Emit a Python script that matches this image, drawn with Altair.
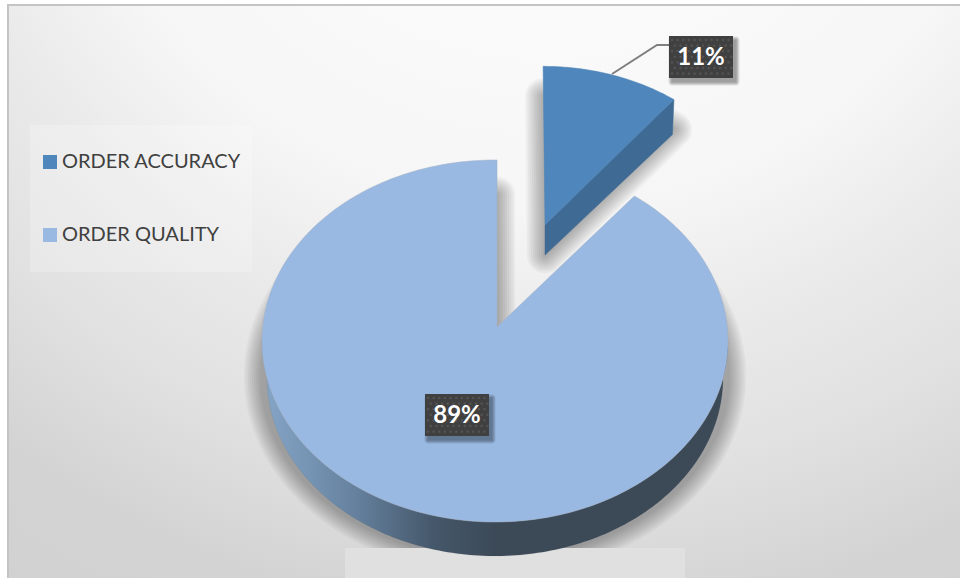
import altair as alt
import numpy as np
import pandas as pd

# Shares of the two order measures, in per cent
names = ["ORDER ACCURACY", "ORDER QUALITY"]
shares = [11, 89]
share_labels = ["11%", "89%"]
face_colors = ["#4f87bd", "#9ab9e2"]

W, H = 960, 578
# The unit circle of the pie sits at this pixel centre with these radii
CX, CY, RX, RY = 495.0, 341.0, 233.0, 181.0
x_scale = alt.Scale(domain=[(0 - CX) / RX, (W - CX) / RX], range=[0, W], nice=False, zero=False)
y_scale = alt.Scale(domain=[(CY - H) / RY, CY / RY], range=[H, 0], nice=False, zero=False)


def ux(px):
    return (px - CX) / RX


def uy(py):
    return (CY - py) / RY


def rim(t0, t1, n=160):
    t = np.radians(np.linspace(t0, t1, n))
    return np.sin(t), np.cos(t)


# Tilted view shortens the small slice's sweep slightly on the far rim
cut = shares[0] * 3.6 * 0.915
TWIST = 0.5
apex_x, apex_y = ux(497), uy(327)

# Large slice: top face
bx, by = rim(cut + TWIST, 360 + TWIST, 300)
big_x = np.r_[apex_x, bx, apex_x]
big_y = np.r_[apex_y, by, apex_y]

# Large slice: outer wall between the top rim and a slightly smaller lower rim
wx, wy = rim(90, 270, 160)
low_x = wx * 228 / RX
low_y = uy(378) + wy * 178 / RY
wall_x = np.r_[wx, low_x[::-1], wx[0]]
wall_y = np.r_[wy, low_y[::-1], wy[0]]

# Small slice: pulled away from the centre and a little smaller
SMALL = 0.95
ox, oy = ux(545), uy(225)
sx, sy = rim(0, cut, 60)
small_x = np.r_[ox, ox + (sx - apex_x) * SMALL, ox]
small_y = np.r_[oy, oy + (sy - apex_y) * SMALL, oy]
end_x, end_y = small_x[-2], small_y[-2]
side_x = np.array([ox, end_x, end_x - 1.5 / RX, ox, ox])
side_y = np.array([oy, end_y, end_y - 35 / RY, oy - 30 / RY, oy])


def frame(xs, ys):
    return pd.DataFrame({"i": np.arange(len(xs)), "u": xs, "v": ys})


def polygon(xs, ys, **mark):
    return alt.Chart(frame(xs, ys)).mark_line(**mark).encode(
        x=alt.X("u:Q", scale=x_scale, axis=None),
        y=alt.Y("v:Q", scale=y_scale, axis=None),
        order=alt.Order("i:Q"),
    )


def soft_shadow(xs, ys, drop, strength):
    layers = []
    for width in range(4, 37, 4):
        layers.append(
            polygon(xs, ys - drop / RY, fill="#000000", stroke="#000000", strokeWidth=width,
                    strokeJoin="round", strokeCap="round", opacity=strength)
        )
    return layers


one = alt.Data(values=[{}])

backdrop = alt.Chart(one).mark_rect(
    fill=alt.RadialGradient(
        gradient="radial", x1=0.56, y1=-0.1, r1=0, x2=0.56, y2=-0.1, r2=1.08,
        stops=[
            alt.GradientStop(offset=0, color="#ffffff"),
            alt.GradientStop(offset=0.15, color="#fdfdfd"),
            alt.GradientStop(offset=0.47, color="#f6f6f6"),
            alt.GradientStop(offset=0.6, color="#eaeaea"),
            alt.GradientStop(offset=0.73, color="#e1e1e1"),
            alt.GradientStop(offset=0.87, color="#d3d3d3"),
            alt.GradientStop(offset=1, color="#d1d1d1"),
        ],
    ),
    stroke="#c4c4c4",
    strokeWidth=2,
).encode(x=alt.value(8), x2=alt.value(W + 10), y=alt.value(5), y2=alt.value(H + 10))

legend_panel = alt.Chart(one).mark_rect(fill="#ffffff", opacity=0.22).encode(
    x=alt.value(30), x2=alt.value(252), y=alt.value(125), y2=alt.value(272)
)

shadows = soft_shadow(small_x, small_y, 30, 0.03)
shadows += soft_shadow(big_x, big_y, 35, 0.03)

# The floor of the shadow stops in a straight line
floor_band = alt.Chart(one).mark_rect(fill="#e0e0e0").encode(
    x=alt.value(345), x2=alt.value(685), y=alt.value(548), y2=alt.value(H)
)

wall_fill = alt.LinearGradient(
    gradient="linear", x1=0, y1=0, x2=1, y2=0,
    stops=[
        alt.GradientStop(offset=0, color="#86a6c8"),
        alt.GradientStop(offset=0.2, color="#65819e"),
        alt.GradientStop(offset=0.37, color="#45576a"),
        alt.GradientStop(offset=0.5, color="#3c4a58"),
        alt.GradientStop(offset=1, color="#3c4a58"),
    ],
)
big_wall = polygon(wall_x, wall_y, fill=wall_fill, stroke="#3c4a58", strokeWidth=0.1)
big_face = polygon(big_x, big_y, fill=face_colors[1], stroke="#a0b0c4", strokeWidth=0.5)
small_side = polygon(side_x, side_y, fill="#3e6a94", stroke="#3e6a94", strokeWidth=0.5)
small_face = polygon(small_x, small_y, fill=face_colors[0], stroke="#4a7fb2", strokeWidth=0.5)

# Leader from the small slice's rim up to its label
leader = polygon(
    np.array([ux(612), ux(657), ux(672)]), np.array([uy(74), uy(45), uy(45)]),
    stroke="#7f7f7f", strokeWidth=2,
)

labels = pd.DataFrame({
    "text": share_labels,
    "u": [ux(701), ux(457)],
    "v": [uy(57), uy(415)],
})
pos = dict(
    x=alt.X("u:Q", scale=x_scale, axis=None),
    y=alt.Y("v:Q", scale=y_scale, axis=None),
)
box_shadows = [
    alt.Chart(labels).mark_rect(
        width=64 + g, height=42 + g, xOffset=3, yOffset=4, fill="#000000", opacity=0.1, cornerRadius=g / 2
    ).encode(**pos)
    for g in (1, 3, 5, 7)
]
boxes = alt.Chart(labels).mark_rect(width=64, height=42, fill="#404040").encode(**pos)

# Dotted texture on the label plates
dots = []
for (lx, ly) in zip([669, 425], [36, 394]):
    for row in range(7):
        for col in range(11):
            dots.append({
                "u": ux(lx + 3 + col * 5.65 + (2.83 if row % 2 else 0)),
                "v": uy(ly + 4 + row * 5.6),
            })
dot_layer = alt.Chart(pd.DataFrame(dots)).mark_square(size=5, color="#545454", opacity=1).encode(**pos)

texts = alt.Chart(labels).mark_text(
    font="Lato", fontSize=24, fontWeight="bold", color="#ffffff", baseline="middle", align="center", dy=1
).encode(text="text:N", **pos)

legend_src = pd.DataFrame({"name": names, "u": [0, 0], "v": [0, 0]})
legend_layer = alt.Chart(legend_src).mark_square(opacity=0, size=1).encode(
    color=alt.Color(
        "name:N",
        scale=alt.Scale(domain=names, range=face_colors),
        legend=alt.Legend(
            title=None, orient="none", legendX=40, legendY=152,
            symbolType="square", symbolSize=196, symbolOpacity=1, symbolStrokeWidth=0,
            labelFont="Lato", labelFontSize=20, labelColor="#404040",
            labelLimit=300, rowPadding=53, labelOffset=2, padding=0,
        ),
    ),
    **pos,
)

chart = alt.layer(
    backdrop, legend_panel, *shadows, floor_band,
    big_wall, big_face, small_side, small_face, leader,
    *box_shadows, boxes, dot_layer, texts, legend_layer,
).properties(
    width=W, height=H, padding=0, autosize=alt.AutoSizeParams(type="none"),
    background="#ffffff",
).configure_view(strokeWidth=0)

chart.save("out.html", embed_options={"renderer": "svg", "actions": False})
